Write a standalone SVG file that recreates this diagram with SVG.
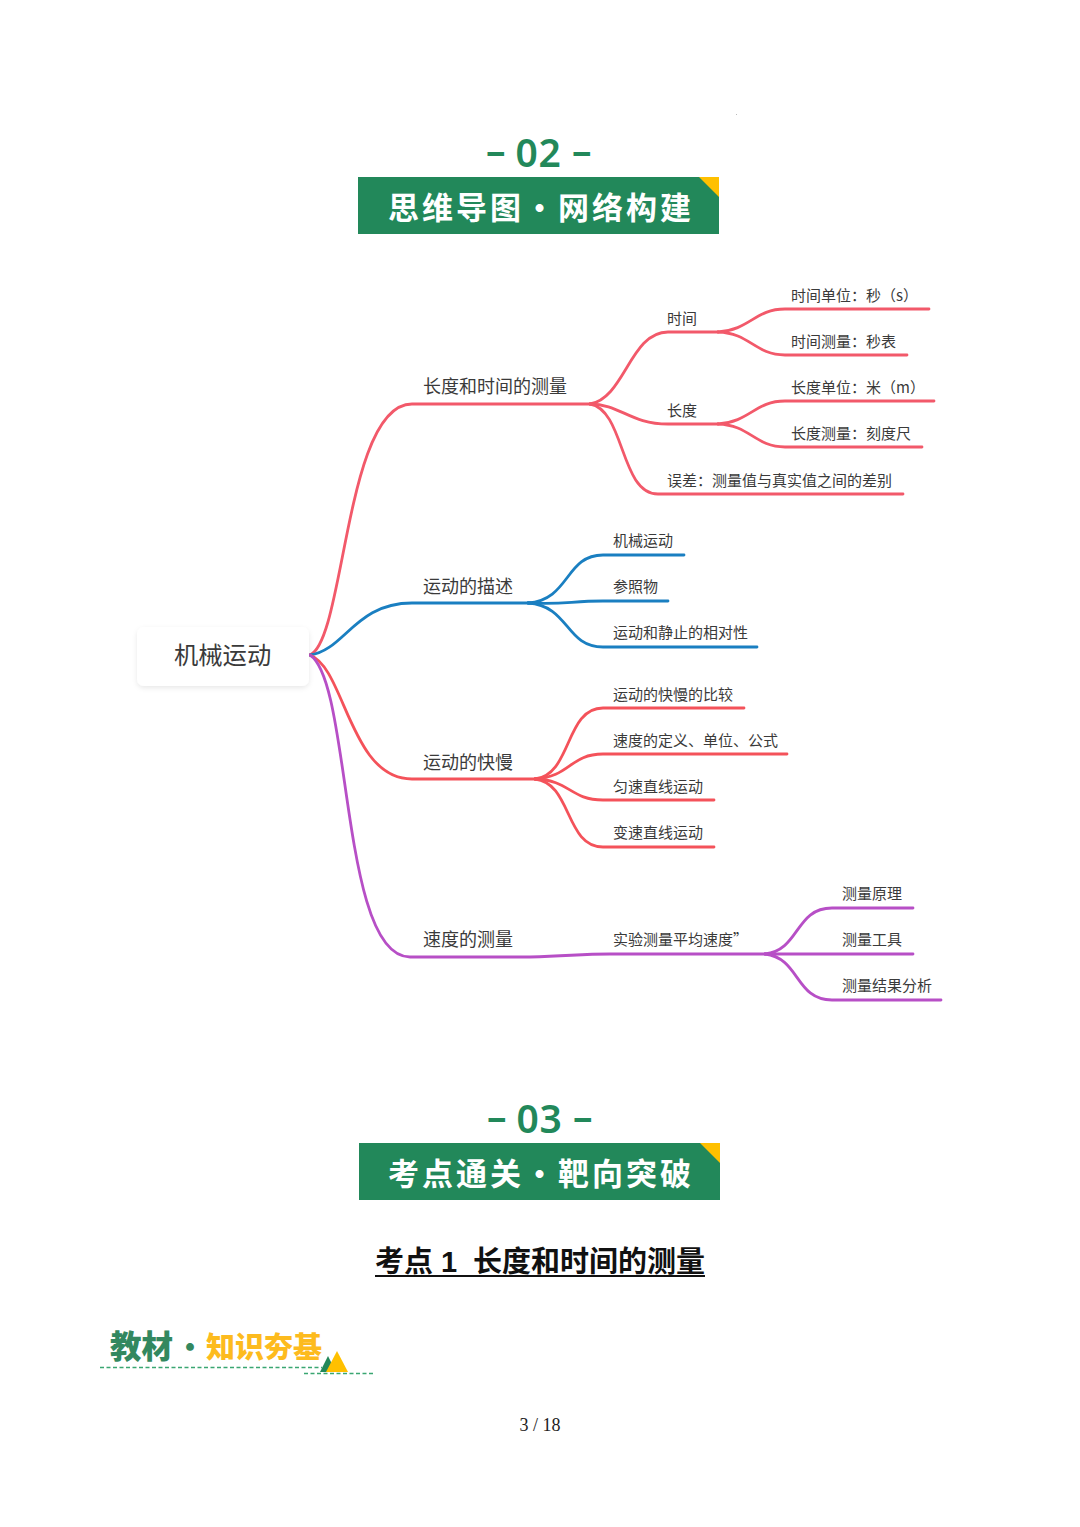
<svg xmlns="http://www.w3.org/2000/svg" width="1080" height="1527" viewBox="0 0 1080 1527">
<style>
text{font-family:"Noto Sans CJK SC","Noto Sans",sans-serif;fill:#3a3a3a}
.l1{font-size:18px}
.l2{font-size:15px}
.root{font-size:24.3px;text-anchor:start}
.num{font-family:"Noto Sans","Noto Sans CJK SC",sans-serif;font-weight:600;font-size:39px;fill:#22885a}
.ban{font-weight:700;font-size:31px;fill:#fff}
.bar{fill:#22885a}
.cor{fill:#ffc000}
path{fill:none;stroke-width:2.8;stroke-linecap:round}
.r{stroke:#f2596a}
.b{stroke:#1a7fc1}
.o{stroke:#f4525a}
.p{stroke:#b74fc6}
.dash{stroke:#3aa672;stroke-width:1.4;stroke-dasharray:4 2.5;fill:none}
</style>
<defs>
<filter id="sh" x="-10%" y="-20%" width="120%" height="150%"><feDropShadow dx="0" dy="2" stdDeviation="2.5" flood-color="#000" flood-opacity="0.09"/></filter>
</defs>
<rect x="736" y="114" width="1" height="1" fill="#bbb"/>

<g id="banner-02">
<text class="num" x="486 515.5 538.5 572" dy="-2 2 0 -2" y="167">–02–</text>
<rect class="bar" x="358" y="177" width="361" height="57"/>
<polygon class="cor" points="699,177 719,177 719,197"/>
<text class="ban" x="388 422 456 490 524 558 592 626 660" y="219">思维导图·网络构建</text>
</g>

<g id="connectors">
<path class="r" d="M310 655C345 640 345 404 412 404L590 404"/>
<path class="b" d="M310 655C345 650 355 603 412 603L530 603"/>
<path class="o" d="M310 655C345 668 350 779 412 779L538 779"/>
<path class="p" d="M310 655C352 682 340 957 410 957L530 957C570 956 580 954 610 954L765 954"/>
<path class="r" d="M590 404C625 398 630 332 668 332L718 332"/>
<path class="r" d="M590 404C620 404 630 424 668 424L718 424"/>
<path class="r" d="M590 404C625 410 620 494 658 494L903 494"/>
<path class="r" d="M718 332C750 330 755 309 785 309L929 309"/>
<path class="r" d="M718 332C750 333 755 355 785 355L907 355"/>
<path class="r" d="M718 424C750 422 755 401 785 401L934 401"/>
<path class="r" d="M718 424C750 425 755 447 785 447L922 447"/>
<path class="b" d="M528 603C570 600 565 555 603 555L684 555"/>
<path class="b" d="M528 603C565 605 570 601 603 601L668 601"/>
<path class="b" d="M528 603C570 606 565 647 603 647L757 647"/>
<path class="o" d="M535 779C572 775 565 708 603 708L744 708"/>
<path class="o" d="M535 779C570 777 570 754 603 754L787 754"/>
<path class="o" d="M535 779C570 780 570 800 603 800L714 800"/>
<path class="o" d="M535 779C572 783 565 847 603 847L714 847"/>
<path class="p" d="M765 954C800 950 795 908 832 908L913 908"/>
<path class="p" d="M765 954L913 954"/>
<path class="p" d="M765 954C800 958 795 1000 832 1000L941 1000"/>
</g>

<g id="node-root">
<rect x="137" y="627" width="172" height="59" rx="7" fill="#fff" filter="url(#sh)"/>
<text class="root" x="174" y="664">机械运动</text>
</g>
<g id="node-a"><text class="l1" x="423" y="393">长度和时间的测量</text></g>
<g id="node-a1"><text class="l2" x="667" y="323.500">时间</text></g>
<g id="node-a2"><text class="l2" x="667" y="416">长度</text></g>
<g id="node-a3"><text class="l2" x="667" y="485.500">误差&#xFF1A;测量值与真实值之间的差别</text></g>
<g id="node-a11"><text class="l2" x="791" y="301">时间单位&#xFF1A;秒&#xFF08;s&#xFF09;</text></g>
<g id="node-a12"><text class="l2" x="791" y="347">时间测量&#xFF1A;秒表</text></g>
<g id="node-a21"><text class="l2" x="791" y="393">长度单位&#xFF1A;米&#xFF08;m&#xFF09;</text></g>
<g id="node-a22"><text class="l2" x="791" y="439">长度测量&#xFF1A;刻度尺</text></g>
<g id="node-b"><text class="l1" x="423" y="593">运动的描述</text></g>
<g id="node-b1"><text class="l2" x="613" y="546">机械运动</text></g>
<g id="node-b2"><text class="l2" x="613" y="592">参照物</text></g>
<g id="node-b3"><text class="l2" x="613" y="638">运动和静止的相对性</text></g>
<g id="node-c"><text class="l1" x="423" y="769">运动的快慢</text></g>
<g id="node-c1"><text class="l2" x="613" y="700">运动的快慢的比较</text></g>
<g id="node-c2"><text class="l2" x="613" y="746">速度的定义、单位、公式</text></g>
<g id="node-c3"><text class="l2" x="613" y="792">匀速直线运动</text></g>
<g id="node-c4"><text class="l2" x="613" y="838">变速直线运动</text></g>
<g id="node-d"><text class="l1" x="423" y="946">速度的测量</text></g>
<g id="node-d1"><text class="l2" x="613" y="945">实验测量平均速度”</text></g>
<g id="node-d11"><text class="l2" x="842" y="899">测量原理</text></g>
<g id="node-d12"><text class="l2" x="842" y="945">测量工具</text></g>
<g id="node-d13"><text class="l2" x="842" y="991">测量结果分析</text></g>

<g id="banner-03">
<text class="num" x="487 516.5 539.5 573" dy="-2 2 0 -2" y="1133">–03–</text>
<rect class="bar" x="359" y="1143" width="361" height="57"/>
<polygon class="cor" points="700,1143 720,1143 720,1163"/>
<text class="ban" x="388 422 456 490 524 558 592 626 660" y="1185">考点通关·靶向突破</text>
</g>

<g id="heading">
<text y="1272" style="font-family:'Liberation Sans','Noto Sans CJK SC',sans-serif;font-size:29px;font-weight:700;fill:#111"><tspan x="375">考点</tspan><tspan x="441">1</tspan><tspan x="473">长度和时间的测量</tspan></text>
<rect x="375" y="1275" width="330" height="2" fill="#111"/>
</g>

<g id="tag">
<text x="110" y="1358" style="font-size:31.500px;font-weight:900;fill:#33885f">教材</text>
<text x="176" y="1358" style="font-size:28px;font-weight:900;fill:#33885f">·</text>
<text x="206" y="1358" style="font-size:29px;font-weight:900;fill:#fdbb1e">知识夯基</text>
<line class="dash" x1="100" y1="1367.500" x2="322" y2="1367.500"/>
<line class="dash" x1="304" y1="1373.500" x2="374" y2="1373.500"/>
<polygon points="320,1372 328,1356 336,1372" fill="#22885a"/>
<polygon points="326,1372 337,1351 348,1372" fill="#ffc000"/>
</g>

<text x="540" y="1431" text-anchor="middle" style="font-family:'Liberation Serif',serif;font-size:18px;fill:#222">3 / 18</text>
</svg>
